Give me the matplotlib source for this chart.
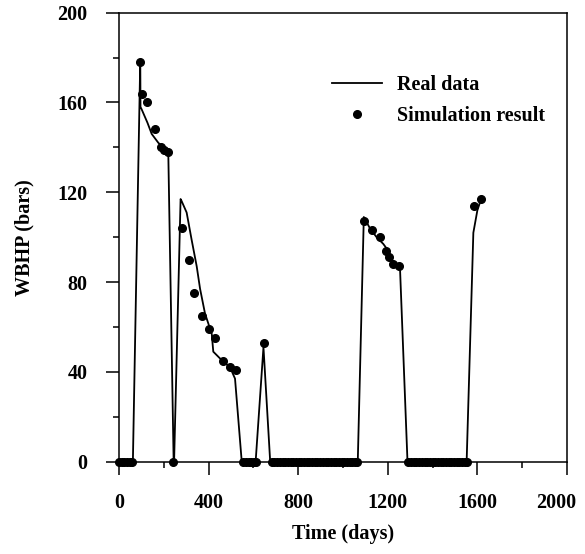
import matplotlib
matplotlib.use("Agg")
import matplotlib.pyplot as plt
from matplotlib.ticker import MultipleLocator
from matplotlib.transforms import ScaledTranslation

plt.rcParams['font.family'] = ['Liberation Serif', 'DejaVu Serif']
plt.rcParams['font.weight'] = 'bold'
plt.rcParams['axes.labelweight'] = 'bold'

# real data (line)
real_t = [0, 62, 95, 96, 101, 127, 146, 176, 200, 220, 244, 246, 275, 280, 302, 324,
          347, 362, 384, 414, 421, 451, 496, 518, 548, 610, 645, 675, 1066, 1093, 1120,
          1150, 1180, 1202, 1217, 1247, 1255, 1288, 1552, 1582, 1600, 1620]
real_p = [0, 0, 179, 158, 157, 151, 146, 142, 140, 138, 0, 0, 117, 116, 111, 99,
          87, 77, 66, 57, 49, 46, 42, 37, 0, 0, 51, 0, 0, 109, 104,
          100, 97, 94, 90, 87, 85, 0, 0, 102, 112, 118]

# simulation result on the curves
sim_t = [94, 101, 127, 161, 186, 201, 220,
         280, 312, 336, 369, 402, 429, 466, 496, 522,
         647,
         1094, 1128, 1165, 1192, 1207, 1225, 1251,
         1587, 1616]
sim_p = [178, 164, 160, 148, 140, 139, 138,
         104, 90, 75, 65, 59, 55, 45, 42, 41,
         53,
         107, 103, 100, 94, 91, 88, 87,
         114, 117]

# simulation result while the well is shut (pressure 0)
shut_t = [0, 12, 24, 36, 48, 60, 242,
          555, 567, 579, 591, 603, 612,
          682, 694, 706, 718, 730, 742, 754, 766, 778, 790, 802, 814, 826, 838,
          850, 862, 874, 886, 898, 910, 922, 934, 946, 958, 970, 982, 994, 1006,
          1018, 1030, 1042, 1054, 1064,
          1292, 1304, 1316, 1328, 1340, 1352, 1364, 1376, 1388, 1400, 1412, 1424,
          1436, 1448, 1460, 1472, 1484, 1496, 1508, 1520, 1532, 1544, 1554]
shut_p = [0] * len(shut_t)

fs = 14.5
fig = plt.figure(figsize=(5.85, 5.54), dpi=100)
ax = fig.add_axes([0.2034, 0.1666, 0.7658, 0.8105])

ax.plot(real_t, real_p, color='black', lw=1.3, label='Real data')
ax.plot(sim_t, sim_p, 'o', color='black', ms=5.5, label='Simulation result')
ax.plot(shut_t, shut_p, 'o', color='black', ms=5.5, clip_on=False)

ax.set_xlim(0, 2000)
ax.set_ylim(0, 200)
ax.set_xticks([0, 400, 800, 1200, 1600, 2000])
ax.xaxis.set_minor_locator(MultipleLocator(200))
ax.yaxis.set_major_locator(MultipleLocator(40))
ax.yaxis.set_minor_locator(MultipleLocator(20))
ax.tick_params(which='major', direction='out', length=9.5, width=1.1, labelsize=fs, pad=13)
ax.tick_params(which='minor', direction='out', length=4, width=1.1)
for s in ax.spines.values():
    s.set_linewidth(1.1)

ax.set_xlabel('Time (days)', fontsize=fs, labelpad=8)
ax.set_ylabel('WBHP (bars)', fontsize=fs, labelpad=17)

ax.legend(loc='upper left', bbox_to_anchor=(0.475, 0.862), frameon=False, fontsize=fs,
          numpoints=1, handlelength=2.5, handletextpad=0.75, borderpad=0, borderaxespad=0,
          labelspacing=0.55)

# last x label sits a bit to the left so it stays inside the picture
fig.canvas.draw()
for lbl in ax.get_xticklabels():
    if lbl.get_text() == '2000':
        lbl.set_transform(lbl.get_transform() + ScaledTranslation(-8 / 72, 0, fig.dpi_scale_trans))

plt.savefig('out.png', dpi=100)
